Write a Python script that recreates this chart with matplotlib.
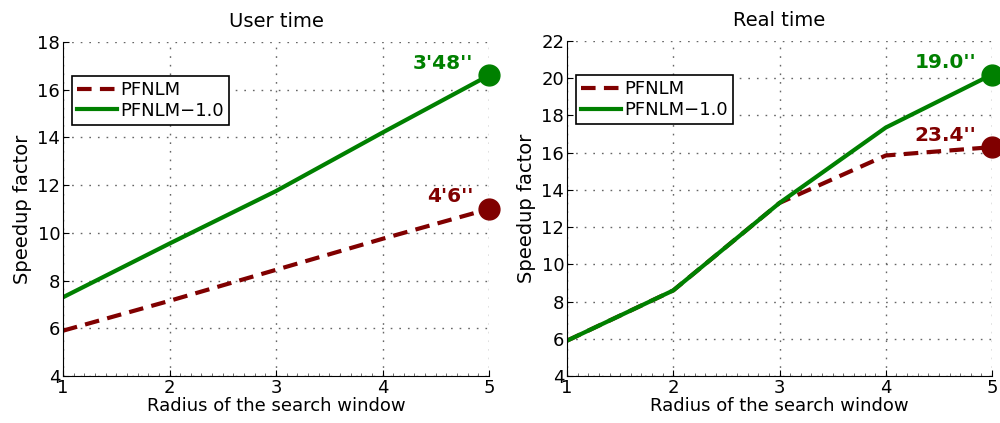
import numpy as np
import matplotlib
matplotlib.use("Agg")
import matplotlib.pyplot as plt
from matplotlib.ticker import MultipleLocator

radius = [1, 2, 3, 4, 5]

# user time speedup
user_pfnlm = [5.9, 7.15, 8.45, 9.75, 11.0]
user_pfnlm10 = [7.3, 9.55, 11.75, 14.2, 16.6]
user_labels = ["4'6''", "3'48''"]

# real time speedup
real_pfnlm = [5.9, 8.6, 13.3, 15.85, 16.3]
real_pfnlm10 = [5.9, 8.6, 13.3, 17.35, 20.2]
real_labels = ["23.4''", "19.0''"]

red = "#800000"
green = "#008000"

plt.rcParams["font.family"] = "DejaVu Sans"
plt.rcParams["font.size"] = 13

fig = plt.figure(figsize=(10, 4.23), dpi=100)
ax1 = fig.add_axes([0.063, 0.111, 0.426, 0.790])
ax2 = fig.add_axes([0.567, 0.111, 0.425, 0.792])


def draw(ax, a, b, labels, title, ymax):
    ax.plot(radius, a, "--", color=red, lw=3, dashes=(3.5, 2), label="PFNLM")
    ax.plot(radius, b, "-", color=green, lw=3, label="PFNLM\u22121.0")
    ax.plot(radius[-1], a[-1], "o", color=red, ms=15, clip_on=False, zorder=5)
    ax.plot(radius[-1], b[-1], "o", color=green, ms=15, clip_on=False, zorder=5)
    ax.annotate(labels[0], (radius[-1], a[-1]), xytext=(-16, 12),
                textcoords="offset pixels", ha="right", va="center",
                color=red, fontweight="bold", fontsize=14.5)
    ax.annotate(labels[1], (radius[-1], b[-1]), xytext=(-16, 12),
                textcoords="offset pixels", ha="right", va="center",
                color=green, fontweight="bold", fontsize=14.5)
    ax.set_xlim(1, 5)
    ax.set_ylim(4, ymax)
    ax.set_xticks(radius)
    ax.set_yticks(np.arange(4, ymax + 1, 2))
    ax.xaxis.set_minor_locator(MultipleLocator(0.1))
    ax.tick_params(which="major", direction="in", length=4, pad=2)
    ax.tick_params(which="minor", direction="in", length=2, color="#555555")
    ax.yaxis.set_minor_locator(plt.NullLocator())
    ax.spines["top"].set_visible(False)
    ax.spines["right"].set_visible(False)
    ax.grid(True, linestyle=(0, (1.2, 5)), color="#666666", lw=1)
    ax.set_title(title, fontsize=14, pad=11)
    ax.set_xlabel("Radius of the search window", labelpad=0)
    ax.set_ylabel("Speedup factor", fontsize=14)
    leg = ax.legend(loc="upper left", bbox_to_anchor=(0.021, 0.898),
                    fancybox=False, edgecolor="black", framealpha=1,
                    handlelength=2.2, borderpad=0.28, labelspacing=0.15,
                    handletextpad=0.2, borderaxespad=0, fontsize=13)
    leg.get_frame().set_linewidth(1.2)


draw(ax1, user_pfnlm, user_pfnlm10, user_labels, "User time", 18)
draw(ax2, real_pfnlm, real_pfnlm10, real_labels, "Real time", 22)

fig.savefig("out.png", dpi=100)
